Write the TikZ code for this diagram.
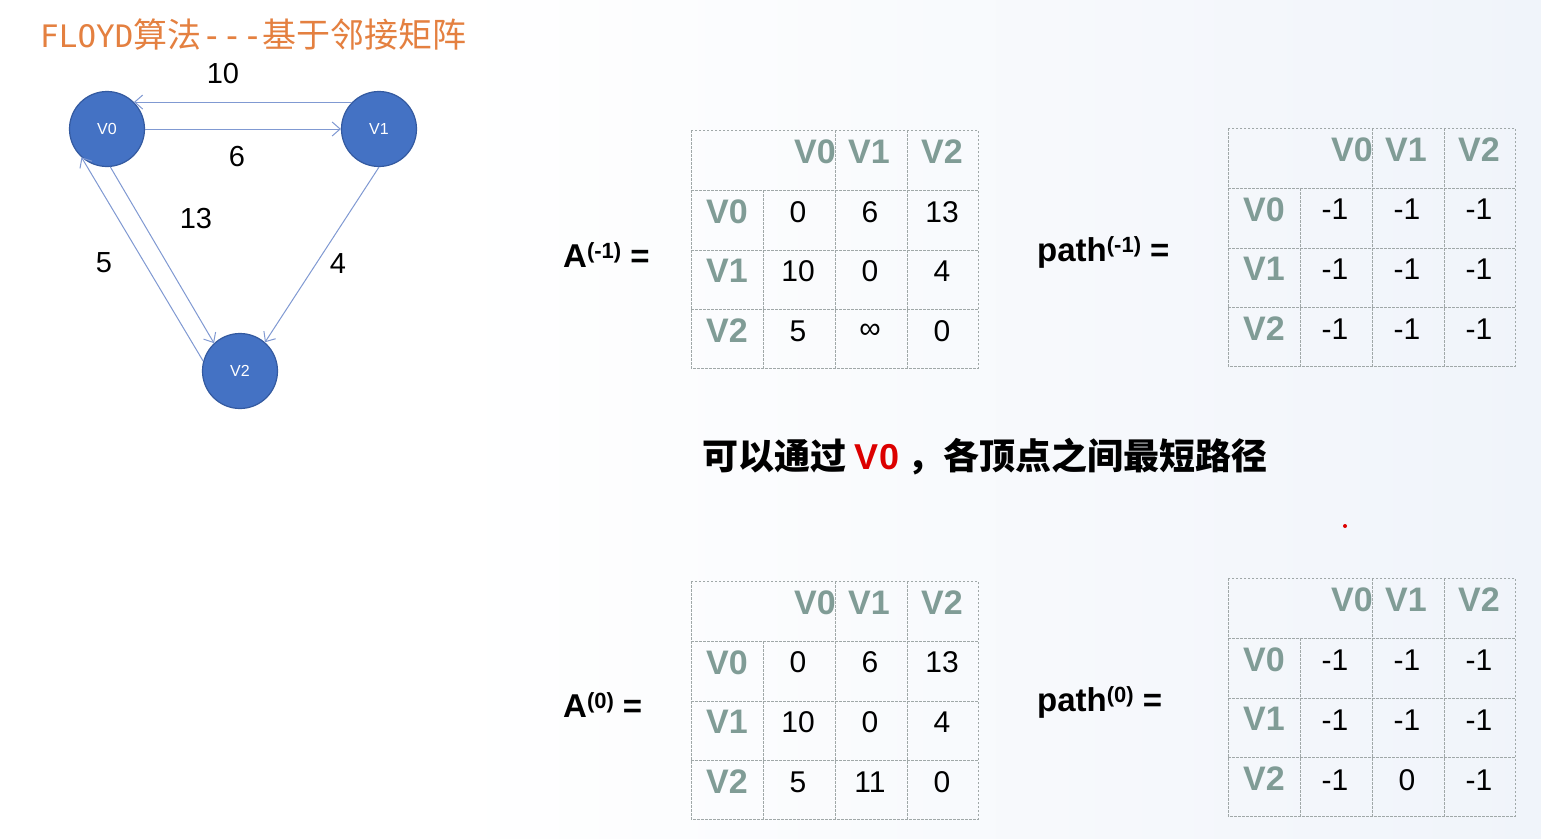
\documentclass[tikz,border=0pt]{standalone}
\usepackage{fontspec}
\setmainfont{Liberation Sans}
\newfontfamily\cjk{Noto Sans CJK SC}
\newfontfamily\monofont{DejaVu Sans Mono}
\usetikzlibrary{arrows.meta}

\definecolor{nodeblue}{RGB}{68,114,196}
\definecolor{nodeedge}{RGB}{52,90,160}
\definecolor{edgeblue}{RGB}{128,153,210}
\definecolor{headgray}{RGB}{128,156,150}
\definecolor{gridgray}{RGB}{160,168,168}
\definecolor{titleorange}{RGB}{228,128,64}
\definecolor{bgblue}{RGB}{240,244,250}
\definecolor{keyred}{RGB}{220,0,0}

\tikzset{
  vertex/.style={circle, draw=nodeedge, line width=1.2pt, fill=nodeblue, minimum size=75pt,
    inner sep=0pt, text=white, font=\fontsize{16}{16}\selectfont},
  weight/.style={inner sep=0pt, font=\fontsize{29}{29}\selectfont},
  grid/.style={gridgray, dash pattern=on 2.5pt off 1.5pt, line width=0.9pt},
  head/.style={inner sep=0pt, text=headgray, font=\bfseries\fontsize{34}{34}\selectfont},
  cell/.style={inner sep=0pt, font=\fontsize{30}{30}\selectfont},
  eqlabel/.style={inner sep=0pt, font=\bfseries\fontsize{33}{33}\selectfont},
}

% grid and headings of one 3x3 table, drawn inside a shifted scope
\newcommand{\matgrid}{%
  \draw[grid] (0,0) rectangle (287,238);
  \draw[grid] (0,60) -- (287,60);
  \draw[grid] (0,120) -- (287,120);
  \draw[grid] (0,179) -- (287,179);
  \draw[grid] (72,60) -- (72,238);
  \draw[grid] (144,0) -- (144,238);
  \draw[grid] (216,0) -- (216,238);
  \node[head, anchor=east] (h0) at (145,22) {V0};
  \node[head] (h1) at (178,22) {V1};
  \node[head] (h2) at (251,22) {V2};
  \node[head] (r0) at (36,82) {V0};
  \node[head] (r1) at (36,141) {V1};
  \node[head] (r2) at (36,201) {V2};
}
% one row of values: name, y, three entries
\newcommand{\matrow}[5]{%
  \node[cell] (#1c0) at (107,#2) {#3};
  \node[cell] (#1c1) at (179,#2) {#4};
  \node[cell] (#1c2) at (251,#2) {#5};
}

\begin{document}
\begin{tikzpicture}[x=1pt, y=-1pt, >={Straight Barb[length=8pt, width=14pt]}]
\useasboundingbox (0,0) rectangle (1541,838);
\fill[white] (0,0) rectangle (1541,838);
\shade[left color=white, right color=bgblue] (450,0) rectangle (1541,838);

% title
\node[anchor=west, inner sep=0pt, text=titleorange] (title) at (40,35)
  {\monofont\fontsize{31}{31}\selectfont FLOYD\cjk\fontsize{34}{34}\selectfont 算法\monofont ---\cjk 基于邻接矩阵};

% graph
\node[vertex] (v0) at (107,129) {V0};
\node[vertex] (v1) at (379,129) {V1};
\node[vertex] (v2) at (240,371) {V2};

\draw[->, edgeblue, line width=1pt] (v1.135) -- (v0.45);
\draw[->, edgeblue, line width=1pt] (v0.east) -- (v1.west);
\draw[->, edgeblue, line width=1pt] (v0.-85) -- (v2.133);
\draw[->, edgeblue, line width=1pt] (v2.165) -- (v0.-132);
\draw[->, edgeblue, line width=1pt] (v1.-90) -- (v2.49);

\node[weight] (w10) at (223,74) {10};
\node[weight] (w6) at (237,157) {6};
\node[weight] (w13) at (196,219) {13};
\node[weight] (w5) at (104,263) {5};
\node[weight] (w4) at (338,264) {4};

% A(-1) and path(-1)
\node[eqlabel, anchor=base west] (a1) at (563,267)
  {A\raisebox{9pt}{\fontsize{22}{22}\selectfont(-1)}\hspace{9pt}=};
\begin{scope}[shift={(691,130)}, name prefix=a1-]
  \matgrid
  \matrow{r0}{82}{0}{6}{13}
  \matrow{r1}{141}{10}{0}{4}
  \matrow{r2}{201}{5}{∞}{0}
\end{scope}

\node[eqlabel, anchor=base west] (p1) at (1037,261)
  {path\raisebox{9pt}{\fontsize{22}{22}\selectfont(-1)}\hspace{9pt}=};
\begin{scope}[shift={(1228,128)}, name prefix=p1-]
  \matgrid
  \matrow{r0}{81}{-1}{-1}{-1}
  \matrow{r1}{141}{-1}{-1}{-1}
  \matrow{r2}{201}{-1}{-1}{-1}
\end{scope}

% note
\node[inner sep=0pt, font=\cjk\bfseries\fontsize{36}{36}\selectfont] (note) at (985,457)
  {可以通过 {\rmfamily\color{keyred}V0} ，各顶点之间最短路径};
\fill[keyred] (1345,526) circle (2);

% A(0) and path(0)
\node[eqlabel, anchor=base west] (a0) at (563,717)
  {A\raisebox{9pt}{\fontsize{22}{22}\selectfont(0)}\hspace{9pt}=};
\begin{scope}[shift={(691,581)}, name prefix=a0-]
  \matgrid
  \matrow{r0}{81}{0}{6}{13}
  \matrow{r1}{141}{10}{0}{4}
  \matrow{r2}{201}{5}{11}{0}
\end{scope}

\node[eqlabel, anchor=base west] (p0) at (1037,711)
  {path\raisebox{9pt}{\fontsize{22}{22}\selectfont(0)}\hspace{9pt}=};
\begin{scope}[shift={(1228,578)}, name prefix=p0-]
  \matgrid
  \matrow{r0}{82}{-1}{-1}{-1}
  \matrow{r1}{142}{-1}{-1}{-1}
  \matrow{r2}{202}{-1}{0}{-1}
\end{scope}
\end{tikzpicture}
\end{document}
